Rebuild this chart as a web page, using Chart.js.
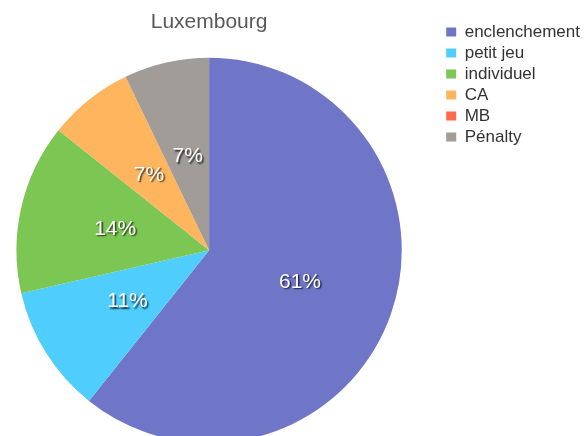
<!DOCTYPE html>
<html>
<head>
<meta charset="utf-8">
<script src="https://cdn.jsdelivr.net/npm/chart.js@4"></script>
<style>
  html, body { margin: 0; padding: 0; background: #ffffff; overflow: hidden; }
  #wrap { position: absolute; left: -24px; top: 0; width: 620px; height: 443px; }
</style>
</head>
<body>
<div id="wrap"><canvas id="c" width="620" height="443"></canvas></div>
<script>
const chartTitle = "Luxembourg";
const categories = ["enclenchement", "petit jeu", "individuel", "CA", "MB", "Pénalty"];
const values = [17, 3, 4, 2, 0, 2];
const colors = ["#6f76c8", "#4fcdfd", "#7cc653", "#ffb55e", "#ff6a4d", "#a19c98"];

const FONT = "'Liberation Sans', Arial, Helvetica, sans-serif";

const pctLabels = {
  id: "pctLabels",
  afterDatasetsDraw(chart) {
    const ctx = chart.ctx;
    const meta = chart.getDatasetMeta(0);
    const data = chart.data.datasets[0].data;
    const total = data.reduce((a, b) => a + b, 0);
    ctx.save();
    ctx.font = "21px " + FONT;
    ctx.textAlign = "center";
    ctx.textBaseline = "middle";
    meta.data.forEach((arc, i) => {
      const v = data[i];
      if (!v) return;
      const p = arc.tooltipPosition();
      const txt = Math.round(v / total * 100) + "%";
      ctx.shadowColor = "rgba(0,0,0,0.75)";
      ctx.shadowOffsetX = 1.5;
      ctx.shadowOffsetY = 1.5;
      ctx.shadowBlur = 1.5;
      ctx.fillStyle = "#ffffff";
      ctx.fillText(txt, p.x, p.y);
    });
    ctx.restore();
  }
};

new Chart(document.getElementById("c"), {
  type: "pie",
  data: {
    labels: categories,
    datasets: [{
      data: values,
      backgroundColor: colors,
      borderWidth: 0
    }]
  },
  options: {
    responsive: false,
    animation: false,
    devicePixelRatio: 1,
    layout: { padding: { left: 0, right: 6, top: 19.5, bottom: 0 } },
    plugins: {
      title: {
        display: true,
        text: chartTitle,
        fullSize: false,
        color: "#595959",
        font: { family: FONT, size: 21, weight: "normal" },
        padding: { top: -10, bottom: 23 }
      },
      legend: {
        position: "right",
        align: "start",
        labels: {
          color: "#333333",
          font: { family: FONT, size: 17 },
          boxWidth: 10,
          boxHeight: 9,
          padding: 4
        }
      },
      tooltip: { enabled: false }
    }
  },
  plugins: [pctLabels]
});
</script>
</body>
</html>
